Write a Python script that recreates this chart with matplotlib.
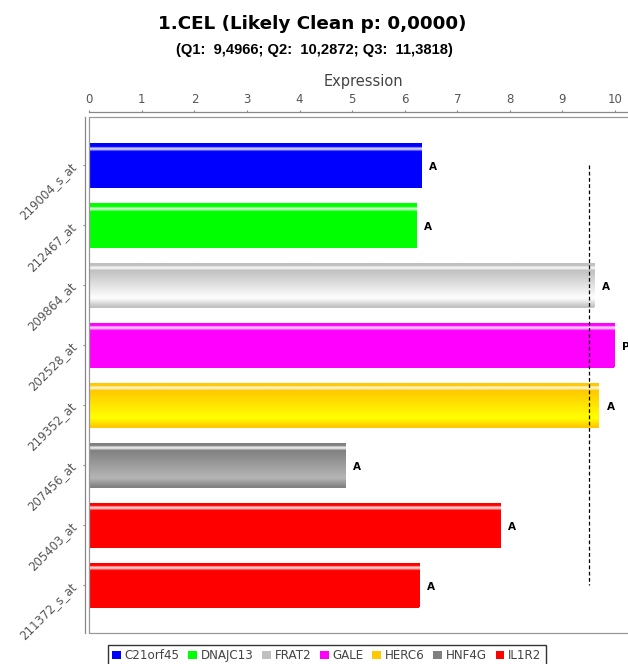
import numpy as np
import matplotlib
matplotlib.use("Agg")
import matplotlib.pyplot as plt
from matplotlib.patches import Patch, Rectangle
from matplotlib.colors import to_rgb

# probe sets, top to bottom
probes = ["219004_s_at", "212467_at", "209864_at", "202528_at",
          "219352_at", "207456_at", "205403_at", "211372_s_at"]
genes = ["C21orf45", "DNAJC13", "FRAT2", "GALE", "HERC6", "HNF4G", "IL1R2", "IL1R2"]
expression = [6.33, 6.23, 9.61, 9.99, 9.70, 4.88, 7.83, 6.28]
calls = ["A", "A", "A", "P", "A", "A", "A", "A"]

legend_genes = ["C21orf45", "DNAJC13", "FRAT2", "GALE", "HERC6", "HNF4G", "IL1R2"]
gene_colors = ["#0000FF", "#00FF00", "#C0C0C0", "#FF00FF", "#FFC800", "#808080", "#FF0000"]
color_of = dict(zip(legend_genes, gene_colors))

q1, q2, q3 = 9.4966, 10.2872, 11.3818
xmax = 10.43

W, H = 628, 664
fig = plt.figure(figsize=(W / 100, H / 100), dpi=100)
ax = fig.add_axes([89.3 / W, (H - 633) / H, xmax * 52.57 / W, (633 - 116.7) / H])


def brighter(rgb):
    # same idea as java.awt.Color.brighter()
    out = []
    for c in rgb:
        c = int(round(c * 255))
        if c > 0:
            c = min(255, int(c / 0.7))
        out.append(c / 255)
    return np.array(out)


def bar_gradient(base, n=240):
    c0 = np.array(to_rgb(base))
    c1 = brighter(c0)
    white = np.ones(3)
    stops = [0.0, 0.08, 0.11, 0.15, 0.18, 0.80, 1.0]
    cols = [c0, c0, c0 + (white - c0) * 0.85, c0 + (white - c0) * 0.7, c0, c1, c0]
    t = np.linspace(0, 1, n)
    img = np.stack([np.interp(t, stops, [c[k] for c in cols]) for k in range(3)], axis=-1)
    return img[:, None, :]


ypos = np.arange(len(probes))
bars = ax.barh(ypos, expression, height=0.75, color=[color_of[g] for g in genes], linewidth=0)
for patch, g in zip(bars, genes):
    x0, y0 = patch.get_x(), patch.get_y()
    w, h = patch.get_width(), patch.get_height()
    im = ax.imshow(bar_gradient(color_of[g]), extent=(x0, x0 + w, y0 + h, y0),
                   origin="upper", aspect="auto", interpolation="bilinear", zorder=2)
    im.set_clip_path(patch)

for y, v, c in zip(ypos, expression, calls):
    ax.annotate(c, (v, y), xytext=(5.3, -1.2), textcoords="offset points",
                ha="left", va="center", fontsize=7.5, fontweight="bold",
                color="black", annotation_clip=False)

# Q1 marker
ax.plot([q1, q1], [ypos[0], ypos[-1]], color="black", lw=0.9,
        linestyle=(0, (3, 2)), zorder=3)

ax.set_xlim(0, xmax)
ax.set_ylim(7.8, -0.805)

ax.xaxis.tick_top()
ax.xaxis.set_label_position("top")
ax.set_xticks(range(11))
ax.set_xlabel("Expression", fontsize=10.5, color="#444444", labelpad=5)
ax.set_yticks(ypos)
ax.set_yticklabels(probes)
ax.tick_params(axis="x", colors="#888888", labelcolor="#555555", labelsize=8.5,
               length=1.6, width=0.8, pad=2.5, direction="out")
ax.tick_params(axis="y", colors="#888888", labelcolor="#555555", labelsize=8.5,
               length=1.6, width=0.8, pad=3, labelrotation=45)
plt.setp(ax.get_yticklabels(), ha="right", va="center", rotation_mode="anchor")

for side in ["bottom", "right"]:
    ax.spines[side].set_visible(False)
ax.spines["top"].set_position(("outward", 3.4))
ax.spines["left"].set_position(("outward", 2.9))
for side in ["top", "left"]:
    ax.spines[side].set_color("#888888")
    ax.spines[side].set_linewidth(0.9)

# plot area border
ax.add_patch(Rectangle((0, 0), 1, 1, transform=ax.transAxes, fill=False,
                       edgecolor="#999999", lw=0.9, clip_on=False, zorder=4))

fig.text(312.5 / W, 1 - 24 / H, "1.CEL (Likely Clean p: 0,0000)", ha="center",
         va="center", fontsize=13.2, fontweight="bold")
fig.text(314.5 / W, 1 - 50 / H, "(Q1:  9,4966; Q2:  10,2872; Q3:  11,3818)",
         ha="center", va="center", fontsize=10.6, fontweight="bold",
         family="Liberation Sans")

handles = [Patch(facecolor=c, edgecolor="none") for c in gene_colors]
leg = fig.legend(handles, legend_genes, loc="upper left",
                 bbox_to_anchor=(108 / W, 1 - 645 / H), ncol=7, frameon=True,
                 fancybox=False, fontsize=8.6, handlelength=0.75, handleheight=0.75,
                 handletextpad=0.3, columnspacing=0.72, borderpad=0.35,
                 borderaxespad=0, labelcolor="#444444")
leg.get_frame().set_edgecolor("black")
leg.get_frame().set_linewidth(1.0)

fig.savefig("out.png", dpi=100)
